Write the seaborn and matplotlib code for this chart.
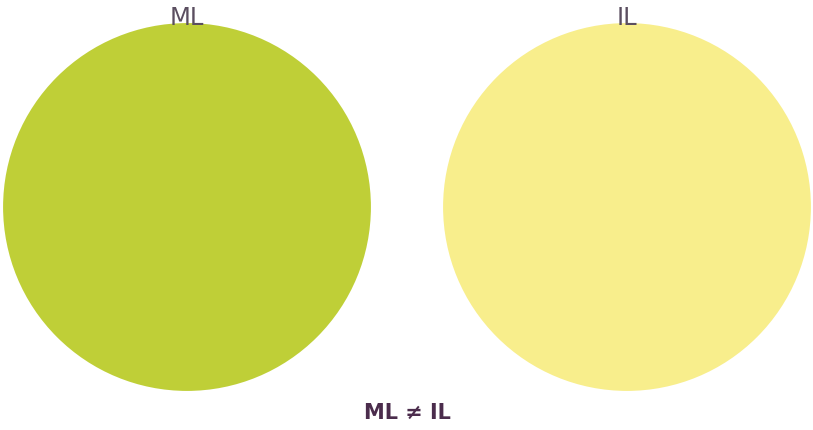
import matplotlib
matplotlib.use("Agg")
import matplotlib.pyplot as plt
from matplotlib.patches import Circle
import seaborn as sns

# Datos
conjuntos = ["ML", "IL"]
colores = ["#BFCF37", "#F8EE8C"]
radio = 0.418
texto_inferior = "ML \u2260 IL"

sns.set_style("white")

fig = plt.figure(figsize=(8.13, 4.30), dpi=100)
ax = fig.add_axes([0, 0, 1, 1])

for i, (nombre, color) in enumerate(zip(conjuntos, colores)):
    ax.add_patch(Circle((i, 0), radio, facecolor=color, edgecolor="none", zorder=1))
    # etiqueta encima del círculo, tocando el borde superior
    ax.text(i, 0.414, nombre, ha="center", va="baseline", fontsize=17.5,
            color="#5B4E60", zorder=2)

ax.text(0.5, -0.467, texto_inferior, ha="center", va="center", fontsize=15,
        fontweight="bold", color="#4B2C4C")

ax.set_xlim(-187 / 440, (813 - 187) / 440)
ax.set_ylim(-(430 - 207) / 440, 207 / 440)
ax.set_aspect("equal")
ax.axis("off")

fig.savefig("out.png", dpi=100)
